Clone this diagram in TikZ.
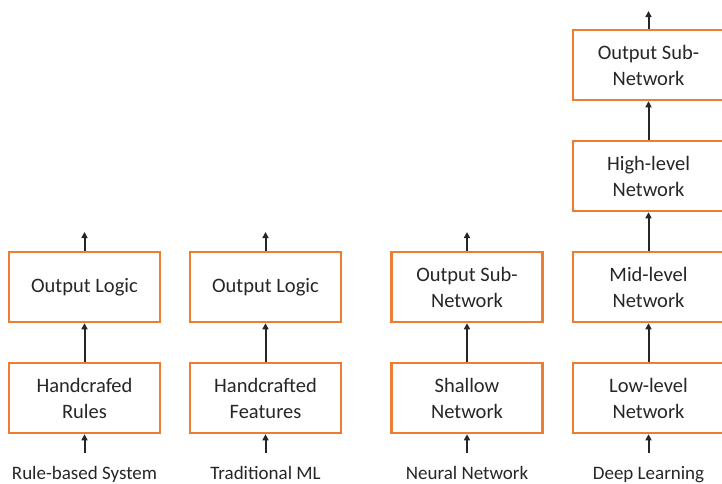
\documentclass[tikz,border=0pt]{standalone}
\usepackage{fontspec}
\setmainfont{Carlito}
\usetikzlibrary{arrows.meta}
\definecolor{boxorange}{HTML}{ED7D31}
\definecolor{txt}{HTML}{262626}
\begin{document}
\begin{tikzpicture}[x=1pt,y=-1pt,
  blk/.style={draw=boxorange, line width=2.5pt, minimum width=151pt, minimum height=70pt,
    inner sep=0pt, align=center, text=txt, font=\fontsize{20.5}{26}\selectfont},
  lbl/.style={text=txt, font=\fontsize{19}{22}\selectfont, inner sep=0pt, anchor=base},
  arr/.style={-{Triangle[length=6pt,width=6pt]}, line width=2pt, black!85}]
\useasboundingbox (0,0) rectangle (722,483);
\clip (0,0) rectangle (722,483);
% column 1
\node[blk] (a1) at (84.5,398) {Handcrafed\\Rules};
\node[blk] (a2) at (84.5,287) {Output Logic};
\coordinate (a0) at (84.5,453);
\coordinate (a3) at (84.5,232);
\node[lbl] (la) at (84.5,479) {Rule-based System};
% column 2
\node[blk] (b1) at (265.5,398) {Handcrafted\\Features};
\node[blk] (b2) at (265.5,287) {Output Logic};
\coordinate (b0) at (265.5,453);
\coordinate (b3) at (265.5,232);
\node[lbl] (lb) at (265.5,479) {Traditional ML};
% column 3
\node[blk] (c1) at (467,398) {Shallow\\Network};
\node[blk] (c2) at (467,287) {Output Sub-\\Network};
\coordinate (c0) at (467,453);
\coordinate (c3) at (467,232);
\node[lbl] (lc) at (467,479) {Neural Network};
% column 4
\node[blk] (d1) at (648.5,398) {Low-level\\Network};
\node[blk] (d2) at (648.5,287) {Mid-level\\Network};
\node[blk] (d3) at (648.5,176) {High-level\\Network};
\node[blk] (d4) at (648.5,65) {Output Sub-\\Network};
\coordinate (d0) at (648.5,453);
\coordinate (d5) at (648.5,11);
\node[lbl] (ld) at (648.5,479) {Deep Learning};
% arrows
\draw[arr] (a0) -- (a1);
\draw[arr] (a1) -- (a2);
\draw[arr] (a2) -- (a3);
\draw[arr] (b0) -- (b1);
\draw[arr] (b1) -- (b2);
\draw[arr] (b2) -- (b3);
\draw[arr] (c0) -- (c1);
\draw[arr] (c1) -- (c2);
\draw[arr] (c2) -- (c3);
\draw[arr] (d0) -- (d1);
\draw[arr] (d1) -- (d2);
\draw[arr] (d2) -- (d3);
\draw[arr] (d3) -- (d4);
\draw[arr] (d4) -- (d5);
\end{tikzpicture}
\end{document}
